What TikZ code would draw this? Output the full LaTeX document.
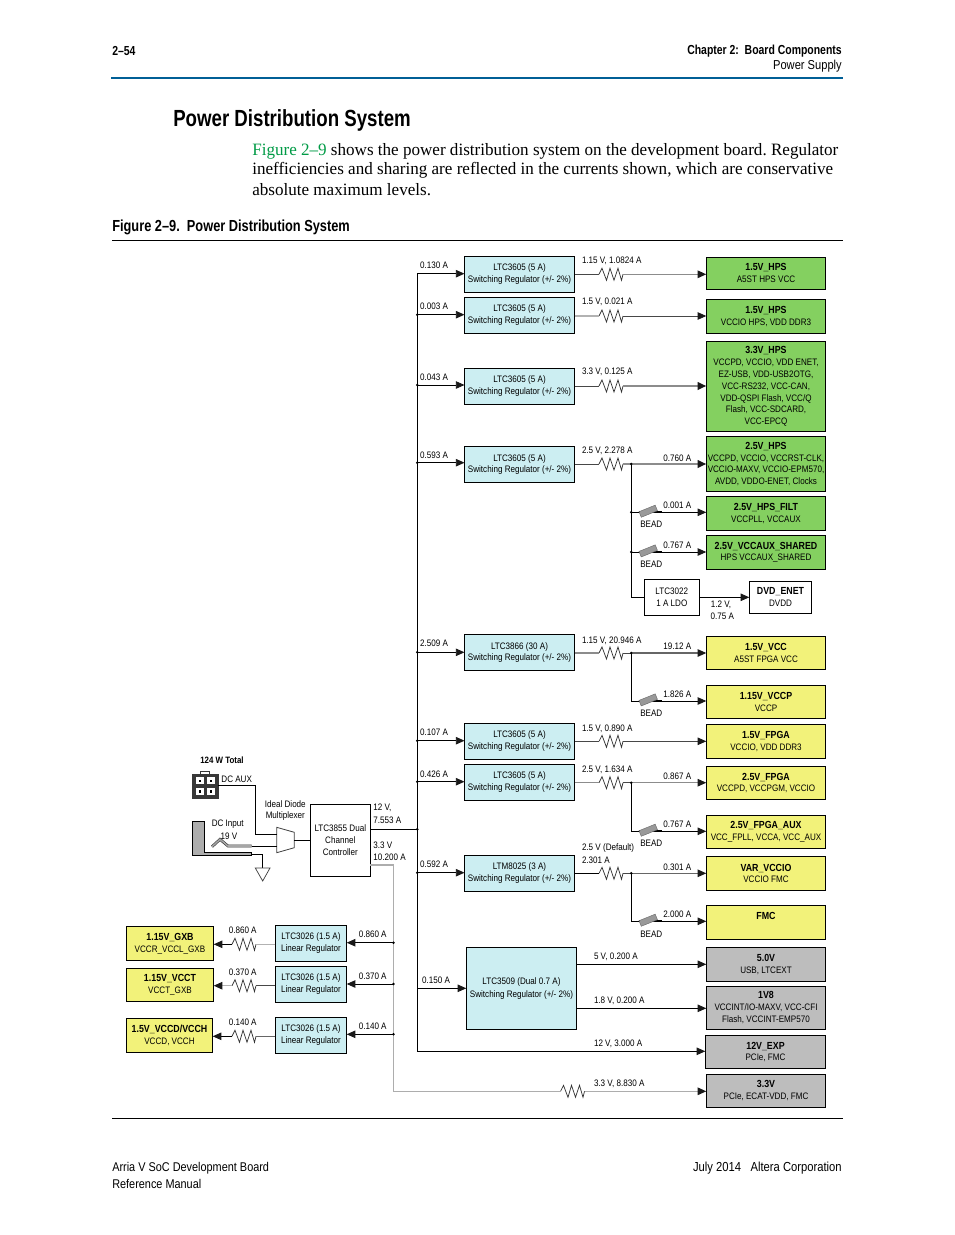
\documentclass[tikz,border=0pt]{standalone}
\usepackage{fontspec}
\usetikzlibrary{arrows.meta,calc}
\setmainfont{Liberation Sans}[FakeStretch=0.86]
\newfontfamily\bodyf{Liberation Serif}[FakeStretch=0.985]
\newfontfamily\headf{Liberation Sans}[FakeStretch=0.80]
\definecolor{altblue}{RGB}{0,95,150}
\definecolor{linkgreen}{RGB}{0,155,70}
\definecolor{cyanreg}{RGB}{204,238,242}
\definecolor{greenload}{RGB}{132,208,96}
\definecolor{yellowload}{RGB}{242,242,122}
\definecolor{grayload}{RGB}{189,189,189}
\newcommand\tb[1]{{\bfseries\fontsize{7.7pt}{8.87pt}\selectfont #1}}
\tikzset{
  base/.style={inner sep=0pt,outer sep=0pt,align=center,font=\fontsize{7.05pt}{8.87pt}\selectfont},
  boxx/.style={base,draw=black,line width=.65pt},
  reg/.style={boxx,fill=cyanreg},
  gl/.style={boxx,fill=greenload},
  yl/.style={boxx,fill=yellowload},
  gy/.style={boxx,fill=grayload},
  wh/.style={boxx,fill=white},
  lab/.style={base,yshift=-0.4pt},
  labl/.style={base,anchor=west,align=left,yshift=-0.4pt},
  tip/.style={-{Triangle[length=6.5pt,width=5.6pt,color=black!90]}},
  dk/.style={draw=black!72,line width=.6pt},
  bl/.style={draw=black,line width=.65pt},
  lg/.style={draw=black!30,line width=.8pt},
  mg/.style={draw=black!45,line width=1.1pt},
  mm/.style={draw=black!60,line width=.8pt},
  reslook/.style={draw=black!80,line width=.55pt,line join=miter},
  dotn/.style={circle,fill=black,inner sep=0pt,minimum size=2.1pt},
}
\newcommand\bx[7]{\node[#6,minimum width={(#4-#2)*0.75pt},minimum height={(#5-#3)*0.75pt}] (#1) at ({(#2+#4)/2},{(#3+#5)/2}) {#7};}
\newcommand\res[3]{\coordinate (#1) at (#2,#3);\coordinate (#1w) at (#2-12,#3);\coordinate (#1e) at (#2+12,#3);
  \draw[reslook] (#1w) -- ++(3,-6) -- ++(4.5,12) -- ++(3.5,-12) -- ++(4,12) -- ++(4,-12) -- ++(3.5,12) -- (#1e);}
\newcommand\bead[3]{\coordinate (#1) at (#2,#3);\coordinate (#1w) at (#2-11.5,#3);\coordinate (#1e) at (#2+12,#3);
  \draw[black,line width=1.6pt] (#1w) -- (#1e);
  \draw[fill=black!40,draw=black!60,line width=.3pt,rotate around={22:(#2-2,#3-1)}] (#2-10.5,#3-4) rectangle (#2+7,#3+2);}
\newcommand\lb[4]{\node[lab] (#1) at (#2,#3) {#4};}
\newcommand\lft[4]{\node[labl] (#1) at (#2,#3) {#4};}
\begin{document}
\frenchspacing
\begin{tikzpicture}[x=0.75pt,y=-0.75pt]
\useasboundingbox (0,0) rectangle (954,1235);
\fill[white] (0,0) rectangle (954,1235);
% page furniture
\node[anchor=west,inner sep=0pt,font=\headf\bfseries\fontsize{9.8pt}{10pt}\selectfont] (pgno) at (112,51) {2–54};
\node[anchor=east,inner sep=0pt,font=\headf\bfseries\fontsize{9.8pt}{10pt}\selectfont] (chap) at (842,51) {Chapter 2:\ \ Board Components};
\node[anchor=east,inner sep=0pt,font=\fontsize{9.7pt}{10pt}\selectfont] (sect) at (842,66.5) {Power Supply};
\draw[altblue,line width=1.3pt] (111,78) -- (843,78);
\node[anchor=west,inner sep=0pt,font=\headf\bfseries\fontsize{17.5pt}{20pt}\selectfont] (title) at (173,120) {Power Distribution System};
\node[anchor=west,inner sep=0pt,font=\bodyf\fontsize{13pt}{15pt}\selectfont] (p1) at (252,151) {\textcolor{linkgreen}{Figure 2–9} shows the power distribution system on the development board. Regulator};
\node[anchor=west,inner sep=0pt,font=\bodyf\fontsize{13pt}{15pt}\selectfont] (p2) at (252,170.5) {inefficiencies and sharing are reflected in the currents shown, which are conservative};
\node[anchor=west,inner sep=0pt,font=\bodyf\fontsize{13pt}{15pt}\selectfont] (p3) at (252,190) {absolute maximum levels.};
\node[anchor=west,inner sep=0pt,font=\headf\bfseries\fontsize{12pt}{12pt}\selectfont] (figcap) at (112,227) {Figure 2–9.\ \ Power Distribution System};
\draw[black,line width=.6pt] (112,240) -- (843,240);
\draw[black,line width=.6pt] (112,1118) -- (843,1118);
\node[anchor=west,inner sep=0pt,font=\fontsize{9.5pt}{10pt}\selectfont] (f1) at (112,1168.5) {Arria V SoC Development Board};
\node[anchor=west,inner sep=0pt,font=\fontsize{9.5pt}{10pt}\selectfont] (f2) at (112,1184) {Reference Manual};
\node[anchor=east,inner sep=0pt,font=\fontsize{9.8pt}{10pt}\selectfont] (f3) at (842,1168.5) {July 2014\ \ \ Altera Corporation};
% regulators
\def\rsw{Switching Regulator (+/- 2\%)}
\bx{r1}{464.5}{256.5}{574.5}{292.3}{reg}{LTC3605 (5 A)\\\rsw}
\bx{r2}{464.5}{297.3}{574.5}{333.3}{reg}{LTC3605 (5 A)\\\rsw}
\bx{r3}{464.5}{368.3}{574.5}{404.3}{reg}{LTC3605 (5 A)\\\rsw}
\bx{r4}{464.5}{446.7}{574.5}{482.3}{reg}{LTC3605 (5 A)\\\rsw}
\bx{r5}{464.5}{634.7}{574.5}{670.3}{reg}{LTC3866 (30 A)\\\rsw}
\bx{r6}{464.5}{723.3}{574.5}{759.3}{reg}{LTC3605 (5 A)\\\rsw}
\bx{r7}{464.5}{764.3}{574.5}{800.3}{reg}{LTC3605 (5 A)\\\rsw}
\bx{r8}{464.5}{855.3}{574.5}{891.3}{reg}{LTM8025 (3 A)\\\rsw}
\bx{r9}{466.3}{947.3}{576.7}{1029.3}{reg}{LTC3509 (Dual 0.7 A)\\[1pt]\rsw}
\bx{ldo}{644.3}{579.3}{699.3}{615.3}{wh}{LTC3022\\1 A LDO}
\bx{c1}{275.3}{925.3}{346.7}{961.3}{reg}{LTC3026 (1.5 A)\\Linear Regulator}
\bx{c2}{275.3}{966.3}{346.7}{1002.3}{reg}{LTC3026 (1.5 A)\\Linear Regulator}
\bx{c3}{275.3}{1017.3}{346.7}{1053.3}{reg}{LTC3026 (1.5 A)\\Linear Regulator}
\bx{ctrl}{310.3}{804.3}{370.3}{876}{wh}{LTC3855 Dual\\Channel\\Controller}
% loads
\bx{l1}{706.3}{257.3}{825.7}{289.3}{gl}{\tb{1.5V\_HPS}\\A5ST HPS VCC}
\bx{l2}{706.3}{299.3}{825.7}{333.3}{gl}{\tb{1.5V\_HPS}\\VCCIO HPS, VDD DDR3}
\bx{l3}{706.3}{341.7}{825.7}{431.3}{gl}{\tb{3.3V\_HPS}\\VCCPD, VCCIO, VDD ENET,\\EZ-USB, VDD-USB2OTG,\\VCC-RS232, VCC-CAN,\\VDD-QSPI Flash, VCC/Q\\Flash, VCC-SDCARD,\\VCC-EPCQ}
\bx{l4}{706.3}{436.7}{825.7}{491.3}{gl}{\tb{2.5V\_HPS}\\VCCPD, VCCIO, VCCRST-CLK,\\VCCIO-MAXV, VCCIO-EPM570,\\AVDD, VDDO-ENET, Clocks}
\bx{l5}{706.3}{496.7}{825.7}{530.3}{gl}{\tb{2.5V\_HPS\_FILT}\\VCCPLL, VCCAUX}
\bx{l6}{706.3}{535.3}{825.7}{569.3}{gl}{\tb{2.5V\_VCCAUX\_SHARED}\\HPS VCCAUX\_SHARED}
\bx{dvd}{749.3}{581.3}{811.7}{613.3}{wh}{\tb{DVD\_ENET}\\DVDD}
\bx{l7}{706.3}{636.3}{825.7}{669.3}{yl}{\tb{1.5V\_VCC}\\A5ST FPGA VCC}
\bx{l8}{706.3}{685.7}{825.7}{718.3}{yl}{\tb{1.15V\_VCCP}\\VCCP}
\bx{l9}{706.3}{724.7}{825.7}{758.3}{yl}{\tb{1.5V\_FPGA}\\VCCIO, VDD DDR3}
\bx{l10}{706.3}{766.7}{825.7}{799.3}{yl}{\tb{2.5V\_FPGA}\\VCCPD, VCCPGM, VCCIO}
\bx{l11}{706.3}{815.7}{825.7}{848.3}{yl}{\tb{2.5V\_FPGA\_AUX}\\VCC\_FPLL, VCCA, VCC\_AUX}
\bx{l12}{706.3}{856.7}{825.7}{890.3}{yl}{\tb{VAR\_VCCIO}\\VCCIO FMC}
\bx{l13}{706.3}{905.7}{825.7}{939.3}{yl}{\tb{FMC}\\[1.6pt]\mbox{}}
\bx{l14}{706.3}{947.3}{825.7}{981.3}{gy}{\tb{5.0V}\\USB, LTCEXT}
\bx{l15}{706.3}{986.3}{825.7}{1029.3}{gy}{\tb{1V8}\\VCCINT/IO-MAXV, VCC-CFI\\Flash, VCCINT-EMP570}
\bx{l16}{705.3}{1035.7}{825.7}{1068.3}{gy}{\tb{12V\_EXP}\\PCIe, FMC}
\bx{l17}{706.3}{1074.3}{825.7}{1107.3}{gy}{\tb{3.3V}\\PCIe, ECAT-VDD, FMC}
\bx{g1}{126.3}{926.7}{213.7}{960.3}{yl}{\tb{1.15V\_GXB}\\VCCR\_VCCL\_GXB}
\bx{g2}{126.3}{968.3}{213.7}{1001.3}{yl}{\tb{1.15V\_VCCT}\\VCCT\_GXB}
\bx{g3}{126.3}{1018.3}{212.7}{1052.3}{yl}{\tb{1.5V\_VCCD/VCCH}\\VCCD, VCCH}
% main bus
\coordinate (bt) at (417.3,273.7);
\coordinate (bb) at (417.3,1051.3);
\draw[bl] (bb) -- (bt);
\foreach \n/\y in {b2/314.7,b3/385,b4/462.7,b5/652.3,b6/740.7,b7/781.7,b8/872.7,b9/988.3,bc/829.3}
  {\coordinate (\n) at (417.3,\y);}
\foreach \n in {b2,b3,b4,b5,b6,b7,b8,bc} {\node[dotn] (d\n) at (\n) {};}
\draw[bl,tip] (bt) -- (r1.west |- bt);
\foreach \a/\b in {b2/r2,b3/r3,b4/r4,b5/r5,b6/r6,b7/r7,b8/r8,b9/r9}
  {\draw[bl,tip] (\a) -- (\b.west |- \a);}
\draw[bl] (ctrl.east |- bc) -- (bc);
\draw[bl,tip] (bb) -- (l16.west |- bb);
% resistors
\res{s1}{611}{274.3}
\res{s2}{611}{316}
\res{s3}{611}{386}
\res{s4}{611}{464}
\res{s5}{611}{653}
\res{s6}{611}{741.3}
\res{s7}{611}{782.7}
\res{s8}{611}{873.3}
\res{s9}{572.5}{1091.3}
\res{t1}{244}{944.3}
\res{t2}{244}{985.7}
\res{t3}{244}{1036.3}
% regulator outputs
\draw[dk] (r1.east |- s1) -- (s1w);
\draw[mg,tip] (s1e) -- (l1.west |- s1);
\draw[lg] (r2.east |- s2) -- (s2w);
\draw[dk,tip] (s2e) -- (l2.west |- s2);
\draw[dk] (r3.east |- s3) -- (s3w);
\draw[mg,line width=1.5pt,tip] (s3e) -- (l3.west |- s3);
\draw[dk] (r4.east |- s4) -- (s4w);
\coordinate (j4) at (631.3,464);
\draw[mg,line width=1.5pt,tip] (s4e) -- (l4.west |- s4);
\node[dotn] (dj4) at (j4) {};
\draw[mg] (r5.east |- s5) -- (s5w);
\coordinate (j5) at (631.3,653);
\draw[dk] (s5e) -- (j5);
\draw[mm,tip] (j5) -- (l7.west |- j5);
\node[dotn] (dj5) at (j5) {};
\draw[dk] (r6.east |- s6) -- (s6w);
\draw[dk,tip] (s6e) -- (l9.west |- s6);
\draw[mg,line width=.9pt] (r7.east |- s7) -- (s7w);
\coordinate (j7) at (631.3,782.7);
\draw[dk] (s7e) -- (j7);
\draw[mg,line width=.9pt,tip] (j7) -- (l10.west |- j7);
\node[dotn] (dj7) at (j7) {};
\draw[bl] (r8.east |- s8) -- (s8w);
\coordinate (j8) at (631.3,873.3);
\draw[dk] (s8e) -- (j8);
\draw[mm,tip] (j8) -- (l12.west |- j8);
\node[dotn] (dj8) at (j8) {};
% beads and branches
\coordinate (k1) at (631.3,512.3);
\coordinate (k2) at (631.3,552);
\coordinate (k3) at (631.3,597.3);
\draw[bl] (j4) -- (k3 |- ldo.west) -- (ldo.west);
\bead{e1}{650}{512.3}
\bead{e2}{650}{552}
\bead{e3}{650}{701}
\bead{e4}{650}{831.3}
\bead{e5}{650}{921.3}
\draw[bl] (k1) -- (e1w); \draw[bl,tip] (e1e) -- (l5.west |- e1);
\draw[bl] (k2) -- (e2w); \draw[bl,tip] (e2e) -- (l6.west |- e2);
\node[dotn] (dk1) at (k1) {};
\node[dotn] (dk2) at (k2) {};
\draw[bl,tip] (ldo.east) -- (dvd.west);
\draw[bl] (j5) |- (e3w); \draw[bl,tip] (e3e) -- (l8.west |- e3);
\draw[bl] (j7) |- (e4w); \draw[bl,tip] (e4e) -- (l11.west |- e4);
\draw[bl] (j8) |- (e5w); \draw[bl,tip] (e5e) -- (l13.west |- e5);
% LTC3509 outputs
\coordinate (o1) at (576.7,964.3);
\coordinate (o2) at (576.7,1008.3);
\draw[bl,tip] (o1) -- (l14.west |- o1);
\draw[bl,tip] (o2) -- (l15.west |- o2);
% gray 3.3 V rail
\coordinate (y0) at (370.3,865);
\coordinate (yb) at (393.5,1091.3);
\draw[draw=black!32,line width=1pt] (y0) -| (yb) -- (s9w);
\draw[draw=black!32,line width=1pt,tip] (s9e) -- (l17.west |- s9);
\foreach \n/\y in {y1/942.7,y2/984,y3/1034.3} {\coordinate (\n) at (393.5,\y);\node[dotn] (d\n) at (\n) {};}
\draw[bl,tip] (y1) -- (c1.east |- y1);
\draw[bl,tip] (y2) -- (c2.east |- y2);
\draw[bl,tip] (y3) -- (c3.east |- y3);
% LTC3026 outputs
\draw[lg] (c1.west |- t1) -- (t1e);
\draw[bl,tip] (t1w) -- (g1.east |- t1);
\draw[dk] (c2.west |- t2) -- (t2e);
\draw[lg,tip] (t2w) -- (g2.east |- t2);
\draw[mm] (c3.west |- t3) -- (t3e);
\draw[bl,tip] (t3w) -- (g3.east |- t3);
% input section
\draw[fill=black!78,draw=black!78] (192.7,774) rectangle (218,798.3);
\draw[fill=white,draw=black!78,line width=.6pt] (200.7,771) rectangle (209.3,774);
\foreach \xx in {196,206.7}{\foreach \yy in {777.3,788}{
  \fill[white] (\xx,\yy) rectangle (\xx+8,\yy+7);
  \fill[black] (\xx+2.8,\yy+2.2) rectangle (\xx+5.2,\yy+4.6);}}
\coordinate (auxo) at (218,785);
\path[draw=black!75,line width=.6pt,fill=white] (276.7,827.3) -- (294.3,832.3) -- (294.3,847.7) -- (276.7,852.7) -- cycle;
\coordinate (muxa) at (276.7,834.3);
\coordinate (muxb) at (276.7,846.3);
\coordinate (muxo) at (294.3,840);
\draw[bl] (auxo) -| (255.7,834.3) -- (muxa);
\draw[bl] (muxo) -- (muxo -| ctrl.west);
\draw[black!85,line width=2pt] (212,846.7) -- (220,839.3) -- (228,846) -- (251.7,846);
\draw[black!35,line width=1.2pt] (212,846.7) -- (220,839.3) -- (228,846) -- (251.7,846);
\draw[bl] (251.7,846.3) -- (muxb);
\path[draw=black,line width=.5pt,fill=black!32] (192.7,821.3) -- (204.7,821.3) -- (204.7,852.3) -- (251.7,852.3) -- (251.7,855.7) -- (192.7,855.7) -- cycle;
\coordinate (gnd) at (262.7,868);
\draw[bl] (251.7,854) -| (gnd);
\path[draw=black!75,line width=.55pt,fill=white] (255.3,868) -- (270,868) -- (262.7,881) -- cycle;
% labels
\node[lab,font=\bfseries\fontsize{6.9pt}{8pt}\selectfont] (tot) at (222,759.7) {124 W Total};
\lb{n1}{236.7}{779}{DC AUX}
\lb{n2}{285.3}{804}{Ideal Diode}
\lb{n3}{285.3}{815.7}{Multiplexer}
\lb{n4}{227.7}{824}{DC Input}
\lb{n5}{229}{835.7}{19 V}
\lft{n6}{373.3}{807.7}{12 V,}
\lft{n7}{373.3}{819.7}{7.553 A}
\lft{n8}{373.3}{844.3}{3.3 V}
\lft{n9}{373.3}{856.7}{10.200 A}
\foreach \t/\y in {0.130 A/264.7,0.003 A/305.7,0.043 A/376.7,0.593 A/454.3,2.509 A/642.7,0.107 A/731.3,0.426 A/773.3,0.592 A/863.3}
  {\node[lab] at (434,\y) {\t};}
\lb{a9}{436}{979.7}{0.150 A}
\foreach \t/\y in {{1.15 V, 1.0824 A}/260.7,{1.5 V, 0.021 A}/301.7,{3.3 V, 0.125 A}/371.7,{2.5 V, 2.278 A}/450.7,{1.15 V, 20.946 A}/640,{1.5 V, 0.890 A}/728.7,{2.5 V, 1.634 A}/769.7,{2.5 V (Default)}/847.7,{2.301 A}/859.7}
  {\node[labl] at (582,\y) {\t};}
\foreach \t/\y in {0.760 A/457.7,0.001 A/504.7,0.767 A/544.3,19.12 A/645.7,1.826 A/693.7,0.867 A/775.3,0.767 A/823.7,0.301 A/866.7,2.000 A/913.7}
  {\node[lab] at (677.3,\y) {\t};}
\foreach \y in {523.3,563.3,712.3,842.7,933.3} {\node[lab] at (651.3,\y) {BEAD};}
\lb{d1}{721}{604}{1.2 V,}
\lb{d2}{722.3}{615.7}{0.75 A}
\lft{v1}{594}{956.7}{5 V, 0.200 A}
\lft{v2}{594}{1000.7}{1.8 V, 0.200 A}
\lft{v3}{594}{1043.7}{12 V, 3.000 A}
\lft{v4}{594}{1083.7}{3.3 V, 8.830 A}
\lb{w1}{242.7}{929.7}{0.860 A}
\lb{w2}{242.7}{971.7}{0.370 A}
\lb{w3}{242.7}{1021.7}{0.140 A}
\lb{w4}{372.7}{933.7}{0.860 A}
\lb{w5}{372.7}{975.7}{0.370 A}
\lb{w6}{372.7}{1025.7}{0.140 A}
\end{tikzpicture}
\end{document}
